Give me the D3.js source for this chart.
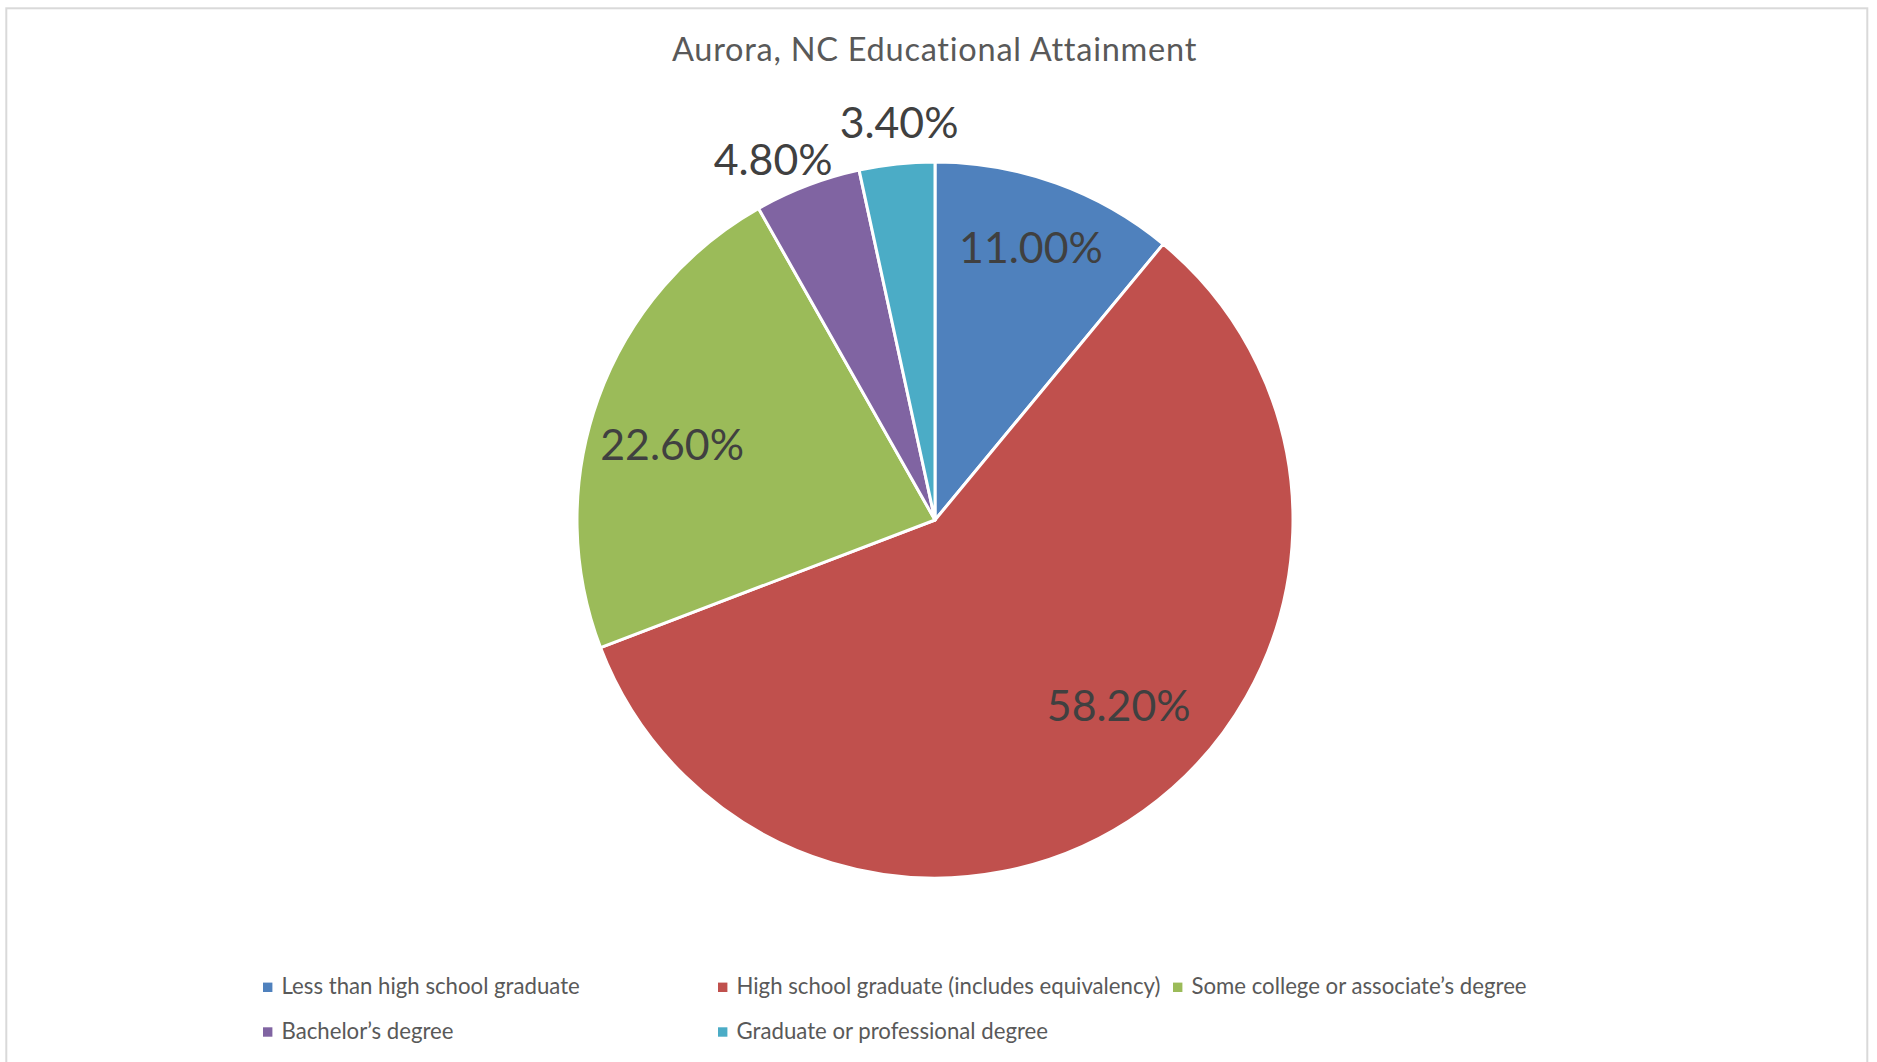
<!DOCTYPE html>
<html>
<head>
<meta charset="utf-8">
<script src="https://cdn.jsdelivr.net/npm/d3@7/dist/d3.min.js"></script>
<style>
  html, body { margin: 0; padding: 0; background: #ffffff; }
  svg { display: block; }
  text { font-variant-ligatures: none; }
</style>
</head>
<body>
<svg id="chart" width="1877" height="1062"></svg>
<script>
// ---- data ----
const categories = [
  "Less than high school graduate",
  "High school graduate (includes equivalency)",
  "Some college or associate\u2019s degree",
  "Bachelor\u2019s degree",
  "Graduate or professional degree"
];
const values = [11.0, 58.2, 22.6, 4.8, 3.4];
const valueLabels = ["11.00%", "58.20%", "22.60%", "4.80%", "3.40%"];
const chartTitle = "Aurora, NC Educational Attainment";

// ---- style / layout ----
const colors = ["#4F81BD", "#C0504D", "#9BBB59", "#8064A2", "#4BACC6"];
const cx = 935, cy = 520, R = 358;
const FONT = "Lato, 'Open Sans', sans-serif";

// label placement (Excel "best fit"): angle offset (deg) from slice mid-angle and radius factor
const labelLayout = [
  { dAng: -0.4, f: 0.807 },
  { dAng: -9.1, f: 0.729 },
  { dAng: -3.8, f: 0.764 },
  { dAng: -3.3, f: 1.104 },
  { dAng: 0.95, f: 1.114 }
];

const svg = d3.select("#chart");

// frame
svg.append("rect")
  .attr("x", 6.3).attr("y", 8.3)
  .attr("width", 1861).attr("height", 1100)
  .attr("fill", "#ffffff")
  .attr("stroke", "#d9d9d9")
  .attr("stroke-width", 2);

// title
svg.append("text")
  .attr("x", 934.5).attr("y", 61)
  .attr("text-anchor", "middle")
  .attr("font-family", FONT)
  .attr("font-size", 32.5)
  .attr("letter-spacing", 0.75)
  .attr("fill", "#595959")
  .text(chartTitle);

const data = categories.map((c, i) => ({ cat: c, value: values[i], label: valueLabels[i], i }));

const pie = d3.pie().sort(null).value(d => d.value);
const arcs = pie(data);
const arc = d3.arc().innerRadius(0).outerRadius(R);

const g = svg.append("g").attr("transform", `translate(${cx},${cy})`);

g.selectAll("path.slice")
  .data(arcs)
  .join("path")
  .attr("class", "slice")
  .attr("d", arc)
  .attr("fill", d => colors[d.data.i])
  .attr("stroke", "#ffffff")
  .attr("stroke-width", 3)
  .attr("stroke-linejoin", "round");

g.selectAll("text.lbl")
  .data(arcs)
  .join("text")
  .attr("class", "lbl")
  .attr("transform", d => {
    const L = labelLayout[d.data.i];
    const a = (d.startAngle + d.endAngle) / 2 + L.dAng * Math.PI / 180;
    const r = R * L.f;
    return `translate(${r * Math.sin(a)},${-r * Math.cos(a)})`;
  })
  .attr("dy", "0.36em")
  .attr("text-anchor", "middle")
  .attr("font-family", FONT)
  .attr("font-size", 42.8)
  .attr("fill", "#404040")
  .text(d => d.data.label);

// legend
const legLeft = 263, colW = 455, row0 = 994.3, rowH = 44.7, sq = 9.4, txtOff = 18.5;
const leg = svg.append("g");
const items = leg.selectAll("g.item")
  .data(data)
  .join("g")
  .attr("class", "item")
  .attr("transform", d => `translate(${legLeft + (d.i % 3) * colW},${row0 + Math.floor(d.i / 3) * rowH})`);

items.append("rect")
  .attr("x", 0).attr("y", -11.7)
  .attr("width", sq).attr("height", sq)
  .attr("fill", d => colors[d.i]);

items.append("text")
  .attr("x", txtOff).attr("y", 0)
  .attr("font-family", FONT)
  .attr("font-size", 22.2)
  .attr("fill", "#595959")
  .text(d => d.cat);
</script>
</body>
</html>
